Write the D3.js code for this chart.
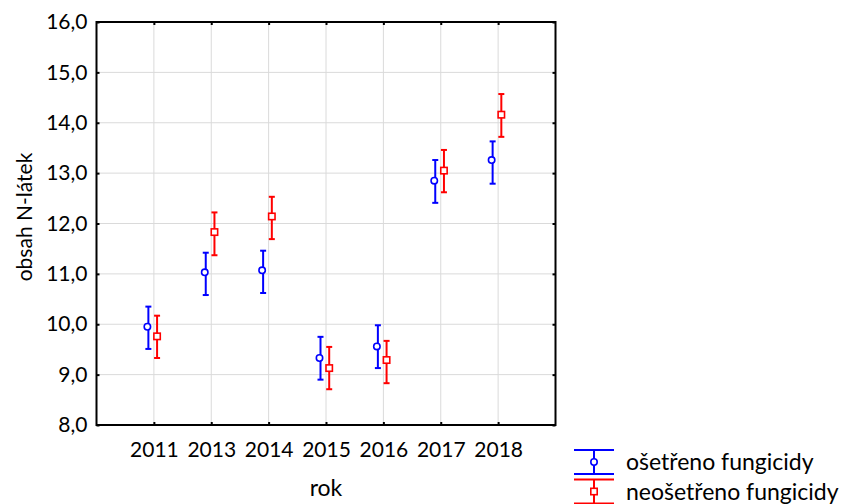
<!DOCTYPE html>
<html>
<head>
<meta charset="utf-8">
<script src="https://cdn.jsdelivr.net/npm/d3@7/dist/d3.min.js"></script>
<style>
  html, body { margin: 0; padding: 0; background: #fff; }
  svg { display: block; }
  text { font-family: Lato, "Open Sans", sans-serif; fill: #000; }
</style>
</head>
<body>
<svg id="chart" width="845" height="504"></svg>
<script>
// Years on the x axis
const years = ["2011", "2013", "2014", "2015", "2016", "2017", "2018"];

// Treated with fungicides: mean and confidence interval
const treatedMean  = [9.95, 11.03, 11.07, 9.33, 9.56, 12.85, 13.26];
const treatedLow   = [9.51, 10.58, 10.62, 8.90, 9.13, 12.41, 12.79];
const treatedHigh  = [10.35, 11.42, 11.46, 9.75, 9.98, 13.26, 13.63];

// Untreated: mean and confidence interval
const untreatedMean = [9.76, 11.83, 12.14, 9.13, 9.29, 13.05, 14.16];
const untreatedLow  = [9.33, 11.37, 11.69, 8.71, 8.83, 12.62, 13.72];
const untreatedHigh = [10.17, 12.22, 12.53, 9.55, 9.67, 13.46, 14.57];

const yTicks = [8, 9, 10, 11, 12, 13, 14, 15, 16];
const seriesNames = ["ošetřeno fungicidy", "neošetřeno fungicidy"];
const seriesColors = ["#0000ff", "#ff0000"];

const svg = d3.select("#chart");
const plot = { left: 96.5, right: 555.5, top: 22, bottom: 425 };

const x = d3.scalePoint().domain(years).range([plot.left, plot.right]).padding(1);
const y = d3.scaleLinear().domain([8, 16]).range([plot.bottom, plot.top]);

const fmt = v => d3.format(".1f")(v).replace(".", ",");

// Grid lines
const grid = svg.append("g");
grid.selectAll("line.h").data(yTicks.slice(1, -1)).join("line")
  .attr("x1", plot.left).attr("x2", plot.right)
  .attr("y1", d => y(d)).attr("y2", d => y(d))
  .attr("stroke", "#dadada").attr("stroke-width", 1);
grid.selectAll("line.v").data(years).join("line")
  .attr("x1", d => x(d)).attr("x2", d => x(d))
  .attr("y1", plot.top).attr("y2", plot.bottom)
  .attr("stroke", "#dadada").attr("stroke-width", 1);

// Axes with inward ticks on all four sides
const tickLen = 3;
const yAxisL = svg.append("g").attr("transform", `translate(${plot.left},0)`)
  .call(d3.axisLeft(y).tickValues(yTicks).tickFormat(fmt).tickSizeInner(-tickLen).tickSizeOuter(0).tickPadding(9));
const yAxisR = svg.append("g").attr("transform", `translate(${plot.right},0)`)
  .call(d3.axisRight(y).tickValues(yTicks).tickFormat("").tickSizeInner(-tickLen).tickSizeOuter(0));
const xAxisB = svg.append("g").attr("transform", `translate(0,${plot.bottom})`)
  .call(d3.axisBottom(x).tickSizeInner(-tickLen).tickSizeOuter(0).tickPadding(17));
const xAxisT = svg.append("g").attr("transform", `translate(0,${plot.top})`)
  .call(d3.axisTop(x).tickFormat("").tickSizeInner(-tickLen).tickSizeOuter(0));

[yAxisL, yAxisR, xAxisB, xAxisT].forEach(g => {
  g.select(".domain").remove();
  g.selectAll(".tick line").attr("stroke", "#000").attr("stroke-width", 2);
  g.selectAll("text").style("font-family", "Lato, 'Open Sans', sans-serif")
    .style("font-size", "21px").attr("fill", "#000");
});

// Frame
svg.append("rect")
  .attr("x", plot.left).attr("y", plot.top)
  .attr("width", plot.right - plot.left).attr("height", plot.bottom - plot.top)
  .attr("fill", "none").attr("stroke", "#000").attr("stroke-width", 2);

// Axis titles
svg.append("text")
  .attr("x", (plot.left + plot.right) / 2).attr("y", 496)
  .attr("text-anchor", "middle").style("font-size", "23px").text("rok");
svg.append("text")
  .attr("transform", `translate(31.5,217) rotate(-90)`)
  .attr("text-anchor", "middle").style("font-size", "21px").text("obsah N-látek");

// Series: error bars with markers
const series = [
  { mean: treatedMean, low: treatedLow, high: treatedHigh, dx: -5.5, color: seriesColors[0], shape: "circle" },
  { mean: untreatedMean, low: untreatedLow, high: untreatedHigh, dx: 3.2, color: seriesColors[1], shape: "square" }
];
const capW = 3;

series.forEach(s => {
  const g = svg.append("g");
  const data = years.map((yr, i) => ({ yr, m: s.mean[i], lo: s.low[i], hi: s.high[i] }));
  const pts = g.selectAll("g").data(data).join("g")
    .attr("transform", d => `translate(${x(d.yr) + s.dx},0)`);
  pts.append("line").attr("y1", d => y(d.lo)).attr("y2", d => y(d.hi))
    .attr("stroke", s.color).attr("stroke-width", 2);
  pts.append("line").attr("x1", -capW).attr("x2", capW)
    .attr("y1", d => y(d.lo)).attr("y2", d => y(d.lo))
    .attr("stroke", s.color).attr("stroke-width", 2);
  pts.append("line").attr("x1", -capW).attr("x2", capW)
    .attr("y1", d => y(d.hi)).attr("y2", d => y(d.hi))
    .attr("stroke", s.color).attr("stroke-width", 2);
  if (s.shape === "circle") {
    pts.append("circle").attr("cx", -1).attr("cy", d => y(d.m)).attr("r", 3.2)
      .attr("fill", "#fff").attr("stroke", s.color).attr("stroke-width", 1.6);
  } else {
    pts.append("rect").attr("x", -3.2).attr("y", d => y(d.m) - 3.2)
      .attr("width", 6.4).attr("height", 6.4)
      .attr("fill", "#fff").attr("stroke", s.color).attr("stroke-width", 1.6);
  }
});

// Legend
const legend = svg.append("g");
const legendY = [462, 491.5];
seriesNames.forEach((name, i) => {
  const g = legend.append("g").attr("transform", `translate(594,${legendY[i]})`);
  const c = seriesColors[i];
  g.append("line").attr("x1", -20).attr("x2", 20).attr("y1", -12).attr("y2", -12)
    .attr("stroke", c).attr("stroke-width", 2);
  g.append("line").attr("x1", -20).attr("x2", 20).attr("y1", 12).attr("y2", 12)
    .attr("stroke", c).attr("stroke-width", 2);
  g.append("line").attr("x1", 0).attr("x2", 0).attr("y1", -12).attr("y2", 12)
    .attr("stroke", c).attr("stroke-width", 2);
  if (i === 0) {
    g.append("circle").attr("cx", 0).attr("cy", 0).attr("r", 3.2)
      .attr("fill", "#fff").attr("stroke", c).attr("stroke-width", 1.6);
  } else {
    g.append("rect").attr("x", -3.2).attr("y", -3.2).attr("width", 6.4).attr("height", 6.4)
      .attr("fill", "#fff").attr("stroke", c).attr("stroke-width", 1.6);
  }
  g.append("text").attr("x", 32).attr("y", 8).style("font-size", "23px").text(name);
});
</script>
</body>
</html>
